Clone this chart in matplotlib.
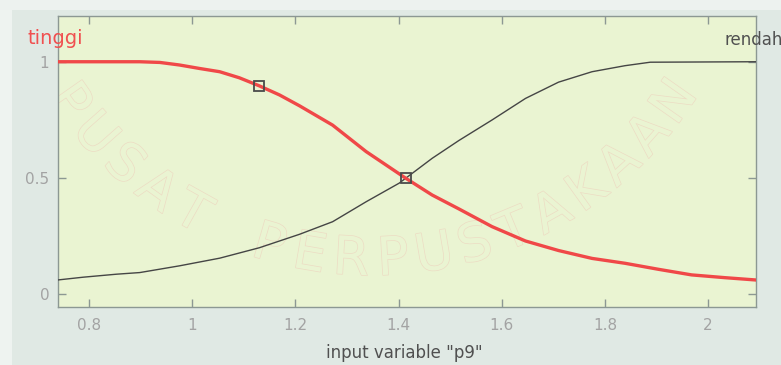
import numpy as np
import matplotlib
matplotlib.use("Agg")
import matplotlib.pyplot as plt
from matplotlib import patheffects
from matplotlib.patches import Rectangle

# ---- data ----
tinggi_x = [0.7385, 0.898, 0.937, 0.975, 1.014, 1.053, 1.091, 1.129, 1.169, 1.208,
            1.272, 1.337, 1.414, 1.465, 1.517, 1.581, 1.646, 1.710, 1.775, 1.839,
            1.904, 1.968, 2.033, 2.093]
tinggi_y = [1.0, 1.0, 0.997, 0.986, 0.971, 0.957, 0.931, 0.897, 0.857, 0.810,
            0.727, 0.613, 0.498, 0.426, 0.366, 0.290, 0.228, 0.187, 0.153, 0.132,
            0.106, 0.082, 0.070, 0.060]

rendah_x = [0.7385, 0.788, 0.853, 0.898, 0.975, 1.053, 1.130, 1.208, 1.272, 1.337,
            1.401, 1.465, 1.517, 1.581, 1.646, 1.710, 1.775, 1.839, 1.888, 2.093]
rendah_y = [0.060, 0.072, 0.085, 0.092, 0.121, 0.154, 0.199, 0.257, 0.311, 0.397,
            0.477, 0.584, 0.661, 0.749, 0.842, 0.912, 0.957, 0.983, 0.998, 1.0]

marker_x = [1.129, 1.414]
marker_y = [0.897, 0.500]

x_ticks = [0.8, 1.0, 1.2, 1.4, 1.6, 1.8, 2.0]
x_ticklabels = ["0.8", "1", "1.2", "1.4", "1.6", "1.8", "2"]
y_ticks = [0, 0.5, 1]
y_ticklabels = ["0", "0.5", "1"]

mf_names = ["tinggi", "rendah"]
x_label = 'input variable "p9"'
watermark = "PUSAT PERPUSTAKAAN"

# ---- figure ----
W, H = 781, 365
fig = plt.figure(figsize=(W / 100, H / 100), dpi=100)
fig.patch.set_facecolor("#e0e9e4")
# lighter outer bands
fig.add_artist(Rectangle((0, 0), 12 / W, 1, transform=fig.transFigure,
                         facecolor="#eef3f0", edgecolor="none", zorder=-5))
fig.add_artist(Rectangle((0, 1 - 10 / H), 1, 10 / H, transform=fig.transFigure,
                         facecolor="#edf2ef", edgecolor="none", zorder=-5))

ax = fig.add_axes([57.5 / W, 1 - 306.7 / H, (756 - 57.5) / W, (306.7 - 16) / H])
ax.set_facecolor("#eaf4d2")
ax.set_xlim(0.7385, 2.093)
ax.set_ylim(-0.055, 1.197)

# faint watermark text along an arc
cx, cy, r = 372.0, -110.0, 370.0
n = len(watermark)
phis = np.linspace(-55, 55, n)
for ch, phi in zip(watermark, phis):
    if ch == " ":
        continue
    p = np.radians(phi)
    px = cx + r * np.sin(p)
    py = cy + r * np.cos(p)
    t = ax.text(px / W, 1 - py / H, ch, transform=fig.transFigure,
                rotation=phi, ha="center", va="center", fontsize=38,
                family="DejaVu Sans", color="#eaf4d2", zorder=1,
                rotation_mode="anchor", clip_on=True)
    t.set_path_effects([patheffects.Stroke(linewidth=1.0, foreground="#eddcc4"),
                        patheffects.Normal()])

ax.plot(rendah_x, rendah_y, color="#454545", lw=1.0, zorder=3)
ax.plot(tinggi_x, tinggi_y, color="#f04848", lw=2.4, zorder=4)
ax.plot(marker_x, marker_y, ls="none", marker="s", ms=7, mfc="none",
        mec="#4a4a4a", mew=1.3, zorder=5)

for sp in ax.spines.values():
    sp.set_color("#8c9893")
    sp.set_linewidth(1.0)

ax.set_xticks(x_ticks)
ax.set_xticklabels(x_ticklabels)
ax.set_yticks(y_ticks)
ax.set_yticklabels(y_ticklabels)
ax.tick_params(axis="both", direction="in", length=5.5, width=1.0,
               color="#8c9893", labelcolor="#a3a3a3", labelsize=11,
               top=True, right=True)
ax.tick_params(axis="x", pad=8)
ax.tick_params(axis="y", pad=6)
for lab in ax.get_xticklabels() + ax.get_yticklabels():
    lab.set_family("DejaVu Sans")

fig.text(28 / W, 1 - 44 / H, mf_names[0], color="#f05050", fontsize=14,
         family="DejaVu Sans", ha="left", va="baseline")
fig.text(724 / W, 1 - 45 / H, mf_names[1], color="#505050", fontsize=12,
         family="DejaVu Sans", ha="left", va="baseline")
fig.text(404 / W, 1 - 358 / H, x_label, color="#505050", fontsize=12,
         family="DejaVu Sans", ha="center", va="baseline")

fig.savefig("out.png", dpi=100, facecolor=fig.get_facecolor())
